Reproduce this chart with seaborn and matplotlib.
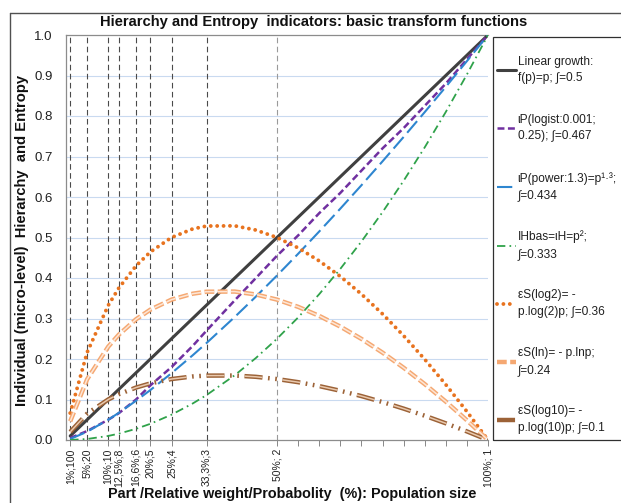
import matplotlib
matplotlib.use("Agg")
import matplotlib.pyplot as plt
import seaborn as sns
from matplotlib.lines import Line2D
from matplotlib.patches import Rectangle

# ---------------- data ----------------
p = [0.01, 0.05, 0.10, 0.125, 0.166, 0.20, 0.25, 0.30, 0.333, 0.40, 0.45, 0.50,
     0.55, 0.60, 0.65, 0.70, 0.75, 0.80, 0.85, 0.90, 0.95, 1.00]
linear = [0.01, 0.05, 0.10, 0.125, 0.166, 0.20, 0.25, 0.30, 0.333, 0.40, 0.45, 0.50,
          0.55, 0.60, 0.65, 0.70, 0.75, 0.80, 0.85, 0.90, 0.95, 1.00]
logist = [0.005, 0.022, 0.050, 0.066, 0.100, 0.135, 0.180, 0.232, 0.270, 0.345, 0.400, 0.455,
          0.505, 0.560, 0.610, 0.665, 0.720, 0.770, 0.825, 0.880, 0.940, 1.000]
power13 = [0.0025, 0.0204, 0.0501, 0.0670, 0.0969, 0.1234, 0.1649, 0.2090, 0.2394, 0.3039, 0.3541, 0.4061,
           0.4597, 0.5148, 0.5712, 0.6289, 0.6880, 0.7482, 0.8095, 0.8720, 0.9355, 1.0000]
square = [0.0001, 0.0025, 0.0100, 0.0156, 0.0276, 0.0400, 0.0625, 0.0900, 0.1109, 0.1600, 0.2025, 0.2500,
          0.3025, 0.3600, 0.4225, 0.4900, 0.5625, 0.6400, 0.7225, 0.8100, 0.9025, 1.0000]
s_log2 = [0.0665, 0.2161, 0.3322, 0.3750, 0.4301, 0.4644, 0.5000, 0.5211, 0.5283, 0.5288, 0.5184, 0.5000,
          0.4744, 0.4422, 0.4040, 0.3603, 0.3113, 0.2575, 0.1993, 0.1368, 0.0703, 0.0000]
s_ln = [0.0461, 0.1498, 0.2303, 0.2599, 0.2981, 0.3219, 0.3466, 0.3612, 0.3662, 0.3665, 0.3593, 0.3466,
        0.3288, 0.3065, 0.2800, 0.2497, 0.2158, 0.1785, 0.1381, 0.0948, 0.0487, 0.0000]
s_log10 = [0.0200, 0.0651, 0.1000, 0.1129, 0.1295, 0.1398, 0.1505, 0.1569, 0.1590, 0.1592, 0.1560, 0.1505,
           0.1428, 0.1331, 0.1216, 0.1084, 0.0937, 0.0775, 0.0600, 0.0412, 0.0212, 0.0000]

major_ticks = [0.01, 0.05, 0.10, 0.125, 0.166, 0.20, 0.25, 0.333, 0.50, 1.00]
major_labels = ["1%;100", "5%;20", "10%;10", "12,5%;8", "16,6%;6", "20%;5", "25%;4",
                "33,3%;3", "50%; 2", "100%; 1"]
minor_ticks = [0.55, 0.60, 0.65, 0.70, 0.75, 0.80, 0.85, 0.90, 0.95]
vlines_x = [0.01, 0.05, 0.10, 0.125, 0.166, 0.20, 0.25, 0.333, 0.50]

legend_labels = [
    "Linear growth:\nf(p)=p; \u222b=0.5",
    "\u03b9P(logist:0.001;\n0.25); \u222b=0.467",
    "\u03b9P(power:1.3)=p\u00b9\u00b7\u00b3;\n\u222b=0.434",
    "IHbas=\u03b9H=p\u00b2;\n\u222b=0.333",
    "\u03b5S(log2)= -\np.log(2)p; \u222b=0.36",
    "\u03b5S(ln)= - p.lnp;\n\u222b=0.24",
    "\u03b5S(log10)= -\np.log(10)p; \u222b=0.1",
]

title = "Hierarchy and Entropy  indicators: basic transform functions"
ylabel = "Individual (micro-level)  Hierarchy  and Entropy"
xlabel = "Part /Relative weight/Probabolity  (%): Population size"

# ---------------- style ----------------
sns.set_theme(style="white")
plt.rcParams["font.family"] = ["Liberation Sans Narrow", "Liberation Sans", "DejaVu Sans"]
plt.rcParams["lines.scale_dashes"] = False

fig = plt.figure(figsize=(6.21, 5.03), dpi=100)
W, H = 621, 503
ax = fig.add_axes([66 / W, 1 - 440 / H, (488 - 66) / W, (440 - 35) / H])

# grid lines
for yv in [0.1, 0.2, 0.3, 0.4, 0.5, 0.6, 0.7, 0.8, 0.9]:
    ax.axhline(yv, color="#c9daf0", lw=0.8, zorder=0)
for i, xv in enumerate(vlines_x):
    col = "#9a9a9a" if xv == 0.5 else "#4a4a4a"
    ax.axvline(xv, color=col, lw=0.8, ls=(0, (4, 2.5)), zorder=1)

# series
sns.lineplot(x=p, y=linear, ax=ax, color="#404040", lw=2.2, zorder=5, label=legend_labels[0])
sns.lineplot(x=p, y=logist, ax=ax, color="#7030A0", lw=1.8, ls=(0, (5, 2.5)), zorder=5,
             label=legend_labels[1])
sns.lineplot(x=p, y=power13, ax=ax, color="#2E86D0", lw=1.5, ls=(0, (11, 4)), zorder=5,
             label=legend_labels[2])
sns.lineplot(x=p, y=square, ax=ax, color="#2FA24A", lw=1.3, ls=(0, (6, 3, 1.2, 3)), zorder=5,
             label=legend_labels[3])
sns.lineplot(x=p, y=s_log2, ax=ax, color="#E8731F", lw=2.8, ls=(0, (0.01, 4.6)),
             solid_capstyle="round", dash_capstyle="round", zorder=5, label=legend_labels[4])
sns.lineplot(x=p, y=s_ln, ax=ax, color="#F5A872", lw=3.2, ls=(0, (7, 2.5)), zorder=5,
             label=legend_labels[5])
sns.lineplot(x=p, y=s_ln, ax=ax, color="#FDE6D6", lw=1.1, ls=(0, (7, 2.5)), zorder=6)
sns.lineplot(x=p, y=s_log10, ax=ax, color="#9C6237", lw=3.2, ls=(0, (13, 4, 1.2, 4, 1.2, 4)),
             zorder=5, label=legend_labels[6])
sns.lineplot(x=p, y=s_log10, ax=ax, color="#E9C9AE", lw=1.1, ls=(0, (13, 14.4)), zorder=6)

ax.set_xlim(0, 1.0)
ax.set_ylim(0, 1.0)
ax.set_yticks([0.0, 0.1, 0.2, 0.3, 0.4, 0.5, 0.6, 0.7, 0.8, 0.9, 1.0])
ax.set_yticklabels([f"{v:.1f}" for v in ax.get_yticks()], fontsize=9.5, color="#202020")
ax.set_xticks(major_ticks)
ax.set_xticklabels(major_labels, rotation=90, fontsize=7.5, color="#202020")
ax.set_xticks(minor_ticks, minor=True)
ax.tick_params(axis="x", which="both", direction="out", length=4, width=0.7, color="#888888",
               bottom=True, pad=2)
ax.tick_params(axis="y", length=0, pad=9.5)

for side in ["left", "bottom", "top"]:
    ax.spines[side].set_color("#8c8c8c")
    ax.spines[side].set_linewidth(0.9)
ax.spines["right"].set_visible(False)

# legend
handles, labels = ax.get_legend_handles_labels()
if ax.get_legend():
    ax.get_legend().remove()
leg = fig.legend(handles, labels, loc="upper left", bbox_to_anchor=(492 / W, 1 - 51 / H),
                 frameon=False, fontsize=8.6, handlelength=1.6, handletextpad=0.15,
                 labelspacing=2.47, borderaxespad=0)
for t in leg.get_texts():
    t.set_color("#202020")
    t.set_linespacing(1.5)

fig.patches.append(Rectangle((493 / W, 1 - 440 / H), 0.5, (440 - 37) / H,
                             transform=fig.transFigure, fill=False, edgecolor="#303030", lw=0.9))
# outer chart frame
fig.lines.append(Line2D([10 / W, 10 / W], [0, 1 - 13 / H], transform=fig.transFigure,
                        color="#505050", lw=1.0))
fig.lines.append(Line2D([10 / W, 1], [1 - 13 / H, 1 - 13 / H], transform=fig.transFigure,
                        color="#505050", lw=1.0))

fig.text(314 / W, 1 - 22 / H, title, ha="center", va="center", fontsize=10.6,
         fontweight="bold", color="#101010")
fig.text(22 / W, 1 - 240 / H, ylabel, ha="center", va="center", rotation=90, fontsize=10.6,
         fontweight="bold", color="#101010")
fig.text(292 / W, 1 - 494 / H, xlabel, ha="center", va="center", fontsize=10.4,
         fontweight="bold", color="#101010")

fig.savefig("out.png", dpi=100)
